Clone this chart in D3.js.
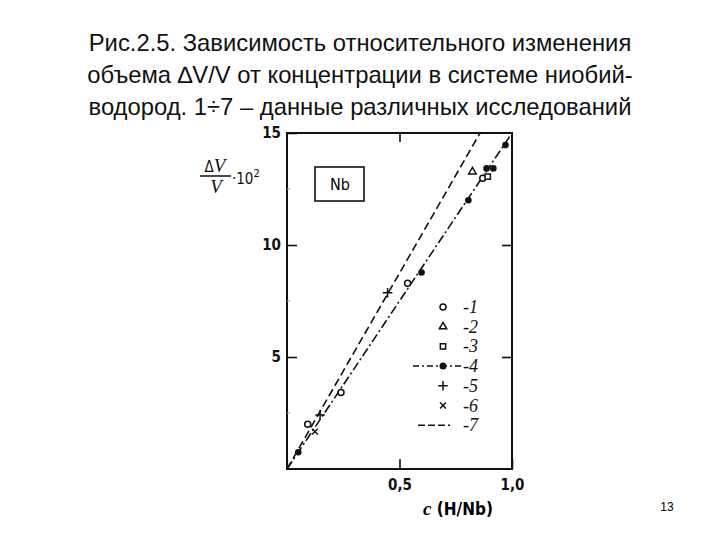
<!doctype html>
<html lang="ru">
<head>
<meta charset="utf-8">
<script src="https://d3js.org/d3.v7.min.js"></script>
<style>
  body { margin: 0; background: #fff; }
  svg { display: block; }
  .title { font-family: "Liberation Sans", Arial, sans-serif; font-size: 23.8px; fill: #111; }
  .tick text { font-family: "DejaVu Sans Condensed", "DejaVu Sans", sans-serif; font-size: 15px; font-weight: bold; fill: #111; }
  .leg { font-family: "Liberation Serif", serif; font-style: italic; font-size: 18px; fill: #111; }
</style>
</head>
<body>
<div id="chart"></div>
<script>
// title lines
const titleLines = [
  "Рис.2.5. Зависимость относительного изменения",
  "объема \u2206V/V от концентрации в системе ниобий-",
  "водород. 1\u00f77 \u2013 данные различных исследований"
];

// data: [c (H/Nb), dV/V * 10^2]
const open1 = [[0.092, 2.0], [0.24, 3.42], [0.536, 8.29], [0.87, 12.98]];
const tri2 = [[0.824, 13.27]];
const square3 = [[0.892, 13.05]];
const filled4 = [[0.05, 0.75], [0.598, 8.77], [0.806, 12.0], [0.887, 13.42], [0.917, 13.42], [0.971, 14.46]];
const plus5 = [[0.147, 2.41], [0.447, 7.87]];
const cross6 = [[0.124, 1.67]];
const line4 = [[0, 0], [1.0, 15]];
const line7 = [[0, 0], [0.858, 15]];

const yTicks = [5, 10, 15];
const yMinor = [2.5, 7.5, 12.5];
const xTicks = [0.5, 1.0];
const legendLabels = ["-1", "-2", "-3", "-4", "-5", "-6", "-7"];

const W = 720, H = 540;
const svg = d3.select('#chart').append('svg')
  .attr('width', W).attr('height', H);

svg.selectAll('text.title')
  .data(titleLines)
  .enter()
  .append('text')
  .attr('class', 'title')
  .attr('x', 360)
  .attr('y', (d, i) => 51 + i * 32)
  .attr('text-anchor', 'middle')
  .text(d => d);

const x = d3.scaleLinear().domain([0, 1]).range([287, 512]);
const y = d3.scaleLinear().domain([0, 15]).range([469, 133]);

// frame
svg.append('rect')
  .attr('x', x(0)).attr('y', y(15))
  .attr('width', x(1) - x(0)).attr('height', y(0) - y(15))
  .attr('fill', 'none').attr('stroke', '#111').attr('stroke-width', 2);

const fmt = d => d3.format('.1f')(d).replace('.', ',');

const axLeft = svg.append('g')
  .attr('transform', 'translate(' + x(0) + ',0)')
  .call(d3.axisLeft(y).tickValues(yTicks).tickSize(-10).tickPadding(6).tickFormat(d3.format('d')));
const axBottom = svg.append('g')
  .attr('transform', 'translate(0,' + y(0) + ')')
  .call(d3.axisBottom(x).tickValues(xTicks).tickSize(-10).tickPadding(10).tickFormat(fmt));
const axRight = svg.append('g')
  .attr('transform', 'translate(' + x(1) + ',0)')
  .call(d3.axisRight(y).tickValues([5, 10]).tickSize(-10).tickFormat(''));
const axTop = svg.append('g')
  .attr('transform', 'translate(0,' + y(15) + ')')
  .call(d3.axisTop(x).tickValues([0.5]).tickSize(-9).tickFormat(''));

[axLeft, axBottom, axRight, axTop].forEach(g => {
  g.select('.domain').remove();
  g.selectAll('.tick line').attr('stroke', '#111').attr('stroke-width', 1.6);
});

svg.selectAll('line.minor')
  .data(yMinor)
  .enter()
  .append('line')
  .attr('class', 'minor')
  .attr('x1', x(0)).attr('x2', x(0) + 3)
  .attr('y1', d => y(d)).attr('y2', d => y(d))
  .attr('stroke', '#999').attr('stroke-width', 1);

// fit lines
const lineGen = d3.line().x(d => x(d[0])).y(d => y(d[1]));
svg.append('path').datum(line7)
  .attr('d', lineGen)
  .attr('fill', 'none').attr('stroke', '#111').attr('stroke-width', 1.6)
  .attr('stroke-dasharray', '8,4');
svg.append('path').datum(line4)
  .attr('d', lineGen)
  .attr('fill', 'none').attr('stroke', '#111').attr('stroke-width', 1.6)
  .attr('stroke-dasharray', '9,3,2,3');

// markers
function drawOpen(g, data) {
  g.selectAll(null).data(data).enter().append('circle')
    .attr('cx', d => x(d[0])).attr('cy', d => y(d[1])).attr('r', 3)
    .attr('fill', '#fff').attr('stroke', '#111').attr('stroke-width', 1.5);
}
function drawFilled(g, data) {
  g.selectAll(null).data(data).enter().append('circle')
    .attr('cx', d => x(d[0])).attr('cy', d => y(d[1])).attr('r', 3.3)
    .attr('fill', '#111');
}
function drawSym(g, data, type, size) {
  g.selectAll(null).data(data).enter().append('path')
    .attr('transform', d => 'translate(' + x(d[0]) + ',' + y(d[1]) + ')')
    .attr('d', d3.symbol().type(type).size(size))
    .attr('fill', type === d3.symbolPlus || type === d3.symbolX ? 'none' : '#fff')
    .attr('stroke', '#111').attr('stroke-width', 1.5);
}
const marks = svg.append('g');
drawOpen(marks, open1);
drawSym(marks, tri2, d3.symbolTriangle2, 40);
drawSym(marks, square3, d3.symbolSquare2, 36);
drawFilled(marks, filled4);
drawSym(marks, plus5, d3.symbolPlus, 32);
drawSym(marks, cross6, d3.symbolX, 24);

// Nb box
svg.append('rect')
  .attr('x', 315).attr('y', 167).attr('width', 49).attr('height', 34)
  .attr('fill', 'none').attr('stroke', '#111').attr('stroke-width', 1.6);
svg.append('text')
  .attr('x', 340).attr('y', 190).attr('text-anchor', 'middle')
  .style('font-family', '"DejaVu Sans Condensed", sans-serif').style('font-size', '16px')
  .text('Nb');

// legend
const lx = 443, ly = 307, step = 19.7;
const leg = svg.append('g');
leg.selectAll('text').data(legendLabels).enter().append('text')
  .attr('class', 'leg')
  .attr('x', 463).attr('y', (d, i) => ly + i * step + 6)
  .text(d => d);
const legSym = [
  {t: 'open'}, {t: d3.symbolTriangle2, s: 40}, {t: d3.symbolSquare2, s: 36},
  {t: 'filled'}, {t: d3.symbolPlus, s: 32}, {t: d3.symbolX, s: 24}, {t: 'none'}
];
legSym.forEach((o, i) => {
  const cy = ly + i * step;
  if (o.t === 'open') {
    leg.append('circle').attr('cx', lx).attr('cy', cy).attr('r', 3)
      .attr('fill', '#fff').attr('stroke', '#111').attr('stroke-width', 1.5);
  } else if (o.t === 'filled') {
    leg.append('line').attr('x1', 413).attr('x2', 462).attr('y1', cy).attr('y2', cy)
      .attr('stroke', '#111').attr('stroke-width', 1.5).attr('stroke-dasharray', '6,3,2,3');
    leg.append('circle').attr('cx', lx).attr('cy', cy).attr('r', 3.5).attr('fill', '#111');
  } else if (o.t === 'none') {
    leg.append('line').attr('x1', 418).attr('x2', 450).attr('y1', cy).attr('y2', cy)
      .attr('stroke', '#111').attr('stroke-width', 1.5).attr('stroke-dasharray', '7,3');
  } else {
    leg.append('path').attr('transform', 'translate(' + lx + ',' + cy + ')')
      .attr('d', d3.symbol().type(o.t).size(o.s))
      .attr('fill', o.t === d3.symbolPlus || o.t === d3.symbolX ? 'none' : '#fff')
      .attr('stroke', '#111').attr('stroke-width', 1.5);
  }
});

// y label: dV/V * 10^2
const yl = svg.append('g').style('font-family', '"DejaVu Sans Condensed", sans-serif').style('fill', '#111');
yl.append('text').attr('x', 215).attr('y', 172).attr('text-anchor', 'middle').style('font-size', '15px')
  .html('\u0394<tspan font-style="italic" font-family="Liberation Serif" font-size="19">V</tspan>');
yl.append('line').attr('x1', 200).attr('x2', 231).attr('y1', 176).attr('y2', 176)
  .attr('stroke', '#111').attr('stroke-width', 1.5);
yl.append('text').attr('x', 216).attr('y', 193).attr('text-anchor', 'middle')
  .style('font-family', 'Liberation Serif').style('font-style', 'italic').style('font-size', '19px')
  .text('V');
yl.append('text').attr('x', 232).attr('y', 184).style('font-size', '15px')
  .html('\u00b710<tspan dy="-7" font-size="11">2</tspan>');

// x label
svg.append('text').attr('x', 423).attr('y', 515)
  .style('font-family', '"DejaVu Sans Condensed", sans-serif').style('font-size', '17px').style('font-weight', 'bold')
  .html('<tspan font-style="italic" font-family="Liberation Serif" font-size="19">c</tspan> (H/Nb)');

// page number
svg.append('text').attr('x', 667).attr('y', 511).attr('text-anchor', 'middle')
  .style('font-family', '"Liberation Sans", Arial, sans-serif').style('font-size', '12px')
  .text('13');
</script>
</body>
</html>
